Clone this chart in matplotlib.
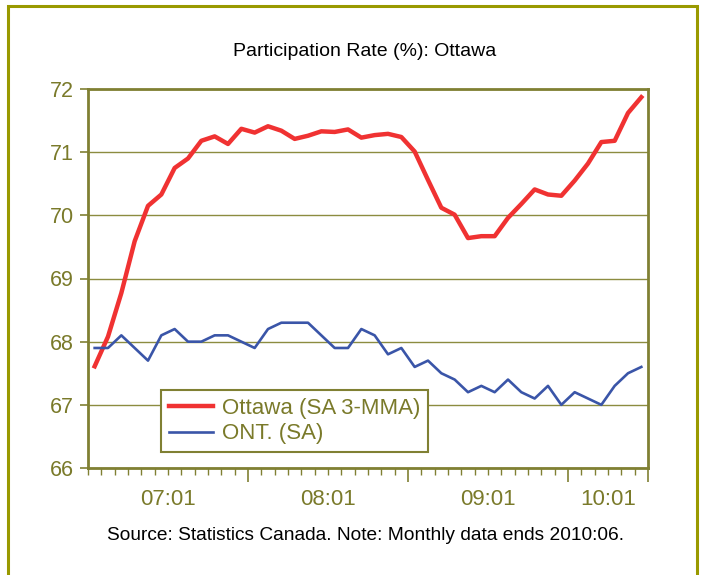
import pandas as pd
import matplotlib.pyplot as plt
from matplotlib.patches import Rectangle

# monthly, 2007:01 - 2010:06
months = pd.period_range("2007-01", "2010-06", freq="M")
ottawa = [67.61, 68.08, 68.77, 69.59, 70.15, 70.33, 70.75, 70.90, 71.18, 71.25,
          71.13, 71.37, 71.31, 71.41, 71.34, 71.21, 71.26, 71.33, 71.32, 71.36,
          71.23, 71.27, 71.29, 71.24, 71.01, 70.56, 70.12, 70.01, 69.64, 69.67,
          69.67, 69.96, 70.18, 70.41, 70.33, 70.31, 70.55, 70.82, 71.16, 71.18,
          71.62, 71.87]
ont = [67.9, 67.9, 68.1, 67.9, 67.7, 68.1, 68.2, 68.0, 68.0, 68.1,
       68.1, 68.0, 67.9, 68.2, 68.3, 68.3, 68.3, 68.1, 67.9, 67.9,
       68.2, 68.1, 67.8, 67.9, 67.6, 67.7, 67.5, 67.4, 67.2, 67.3,
       67.2, 67.4, 67.2, 67.1, 67.3, 67.0, 67.2, 67.1, 67.0, 67.3,
       67.5, 67.6]
y_ticks = [66, 67, 68, 69, 70, 71, 72]

olive = "#808033"
text_olive = "#7a7a2a"

x = list(range(len(months)))

fig = plt.figure(figsize=(7.02, 5.75), dpi=100)
fig.patches.append(Rectangle((8 / 702, -0.02), 689 / 702, 1.02 - 6 / 575,
                             transform=fig.transFigure, fill=False,
                             edgecolor="#999900", linewidth=2.2))

ax = fig.add_axes([88 / 702, 107 / 575, 560 / 702, 379 / 575])
ax.plot(x, ottawa, color="#f03232", linewidth=3.2, label="Ottawa (SA 3-MMA)",
        zorder=3)
ax.plot(x, ont, color="#3a55a8", linewidth=1.9, label="ONT. (SA)", zorder=3)

ax.set_xlim(-0.5, len(months) - 0.5)
ax.set_ylim(66, 72)
ax.set_yticks(y_ticks)
ax.grid(axis="y", color="#8c8c40", linewidth=1.0)
for s in ax.spines.values():
    s.set_color(olive)
    s.set_linewidth(2.0)

# tick marks between categories, bigger one at each year
jan = [i for i, m in enumerate(months) if m.month == 1]
ax.set_xticks([i - 0.5 for i in jan[1:]] + [len(months) - 0.5])
ax.set_xticklabels([])
ax.set_xticks([i - 0.5 for i in x], minor=True)
ax.tick_params(axis="x", which="major", length=10, width=1.2, color=olive)
ax.tick_params(axis="x", which="minor", length=5, width=1.0, color=olive)
ax.tick_params(axis="y", length=6, width=1.2, color=olive, labelcolor=text_olive,
               labelsize=15.5, pad=4)

# year labels centred in each group
starts = jan + [len(months)]
centers = [(starts[k] + starts[k + 1]) / 2 - 0.5 for k in range(len(jan))]
labels = [months[i].strftime("%y:%m") for i in jan]
sec = ax.secondary_xaxis("bottom")
sec.set_xticks(centers)
sec.set_xticklabels(labels)
sec.tick_params(length=0, labelcolor=text_olive, labelsize=16, pad=15)
sec.spines["bottom"].set_visible(False)

for t in ax.get_yticklabels() + sec.get_xticklabels():
    t.set_fontfamily("Liberation Sans")

leg = ax.legend(loc="lower left", bbox_to_anchor=(0.13, 0.042), frameon=True,
                fancybox=False, framealpha=1, edgecolor=olive,
                prop={"family": "Liberation Sans", "size": 16},
                handlelength=2.0, borderpad=0.35, labelspacing=0.2,
                handletextpad=0.4, borderaxespad=0)
leg.get_frame().set_linewidth(1.5)
for t in leg.get_texts():
    t.set_color(text_olive)

fig.text(0.52, 1 - 52 / 575, "Participation Rate (%): Ottawa", ha="center",
         va="center", fontsize=14, family="Liberation Sans")
fig.text(0.52, 1 - 536 / 575,
         "Source: Statistics Canada. Note: Monthly data ends 2010:06.",
         ha="center", va="center", fontsize=13.8, family="Liberation Sans")

fig.savefig("out.png", dpi=100)
